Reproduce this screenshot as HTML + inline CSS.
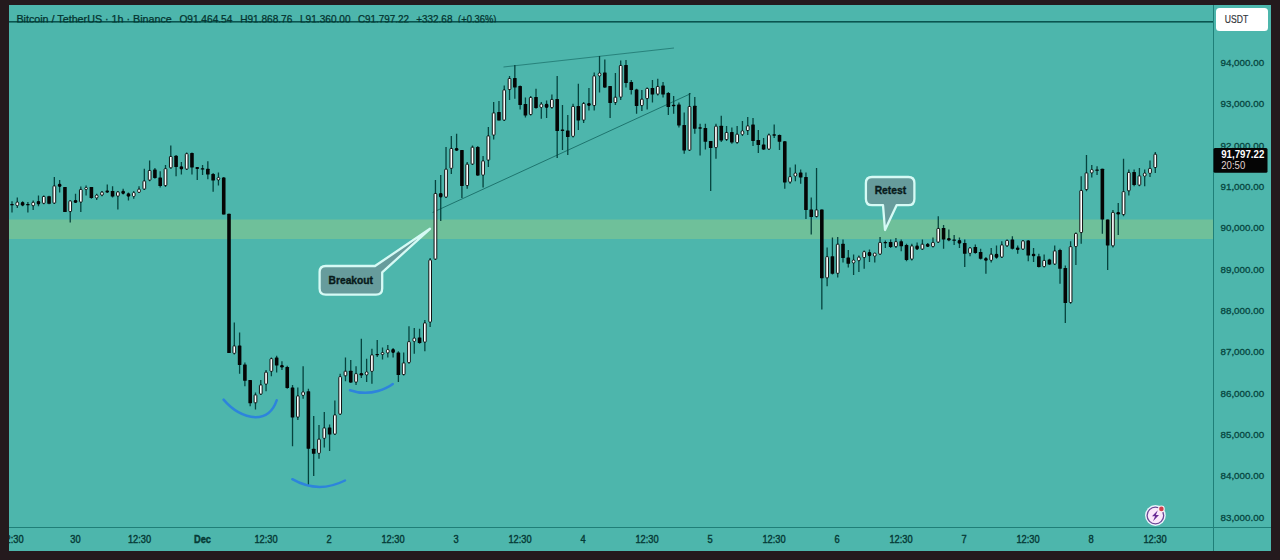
<!DOCTYPE html>
<html><head><meta charset="utf-8"><title>BTCUSDT chart</title>
<style>
html,body{margin:0;padding:0;background:#241a1d;}
body{width:1280px;height:560px;overflow:hidden;position:relative;font-family:"Liberation Sans",sans-serif;}
#chart{position:absolute;left:9px;top:5px;width:1262px;height:546px;background:#4db6ac;}
svg{position:absolute;left:0;top:0;}
text{font-family:"Liberation Sans",sans-serif;}
</style></head><body>
<div id="chart"></div>
<svg width="1280" height="560" viewBox="0 0 1280 560">
<rect x="9" y="219.5" width="1204.5" height="19.5" fill="#6fc09a"/>
<rect x="9" y="21" width="1204.5" height="1.6" fill="#0a5550"/>
<rect x="1213" y="5" width="1" height="546" fill="#1f7f78"/>
<rect x="9" y="527" width="1262" height="1" fill="#1f7f78"/>
<line x1="432.5" y1="212.5" x2="691" y2="93.5" stroke="#0f5f5a" stroke-width="1" opacity="0.75"/>
<line x1="503.5" y1="67" x2="674" y2="48" stroke="#0f5f5a" stroke-width="0.9" opacity="0.65"/>
<g shape-rendering="auto">
<rect x="11.35" y="201.25" width="1.3" height="11.25" fill="#06433e"/>
<rect x="10.2" y="204.03" width="3.6" height="1.2" rx="0.6" fill="#050505"/>
<rect x="16.64" y="197.5" width="1.3" height="10.5" fill="#06433e"/>
<rect x="15.94" y="202" width="2.7" height="3.75" rx="1.2" fill="#ffffff" stroke="#0a0a0a" stroke-width="0.95"/>
<rect x="21.94" y="201.25" width="1.3" height="5" fill="#06433e"/>
<rect x="20.79" y="202" width="3.6" height="3.75" rx="1.4" fill="#050505"/>
<rect x="27.23" y="202" width="1.3" height="10.5" fill="#06433e"/>
<rect x="26.08" y="204.03" width="3.6" height="1.2" rx="0.6" fill="#050505"/>
<rect x="32.52" y="200.5" width="1.3" height="9.5" fill="#06433e"/>
<rect x="31.82" y="202.2" width="2.7" height="3.6" rx="1.2" fill="#ffffff" stroke="#0a0a0a" stroke-width="0.95"/>
<rect x="37.82" y="195.5" width="1.3" height="10.75" fill="#06433e"/>
<rect x="36.67" y="201" width="3.6" height="3.5" rx="1.4" fill="#050505"/>
<rect x="43.11" y="195.5" width="1.3" height="8.75" fill="#06433e"/>
<rect x="42.41" y="196.45" width="2.7" height="6.85" rx="0.6" fill="#ffffff" stroke="#0a0a0a" stroke-width="0.95"/>
<rect x="48.4" y="195.75" width="1.3" height="8.5" fill="#06433e"/>
<rect x="47.25" y="196.25" width="3.6" height="7.5" rx="0.5" fill="#050505"/>
<rect x="53.69" y="177" width="1.3" height="27" fill="#06433e"/>
<rect x="52.99" y="185.95" width="2.7" height="17.1" rx="0.6" fill="#ffffff" stroke="#0a0a0a" stroke-width="0.95"/>
<rect x="58.99" y="180" width="1.3" height="12.5" fill="#06433e"/>
<rect x="57.84" y="183.75" width="3.6" height="3.25" rx="1.4" fill="#050505"/>
<rect x="64.28" y="187" width="1.3" height="25" fill="#06433e"/>
<rect x="63.13" y="187" width="3.6" height="25" rx="0.5" fill="#050505"/>
<rect x="69.57" y="200.5" width="1.3" height="22" fill="#06433e"/>
<rect x="68.87" y="200.95" width="2.7" height="10.6" rx="0.6" fill="#ffffff" stroke="#0a0a0a" stroke-width="0.95"/>
<rect x="74.87" y="193.75" width="1.3" height="9.25" fill="#06433e"/>
<rect x="73.72" y="200" width="3.6" height="3" rx="1.4" fill="#050505"/>
<rect x="80.16" y="186.5" width="1.3" height="25.5" fill="#06433e"/>
<rect x="79.46" y="189.45" width="2.7" height="12.6" rx="0.6" fill="#ffffff" stroke="#0a0a0a" stroke-width="0.95"/>
<rect x="85.45" y="185.5" width="1.3" height="10" fill="#06433e"/>
<rect x="84.75" y="187.5" width="2.7" height="2" rx="1" fill="#ffffff" stroke="#0a0a0a" stroke-width="0.95"/>
<rect x="90.74" y="187" width="1.3" height="11.75" fill="#06433e"/>
<rect x="89.59" y="187" width="3.6" height="11" rx="0.5" fill="#050505"/>
<rect x="96.04" y="193.75" width="1.3" height="6.25" fill="#06433e"/>
<rect x="95.34" y="195" width="2.7" height="3" rx="1.2" fill="#ffffff" stroke="#0a0a0a" stroke-width="0.95"/>
<rect x="101.33" y="191" width="1.3" height="5.25" fill="#06433e"/>
<rect x="100.63" y="191.95" width="2.7" height="3.35" rx="1.2" fill="#ffffff" stroke="#0a0a0a" stroke-width="0.95"/>
<rect x="106.62" y="184.5" width="1.3" height="8.5" fill="#06433e"/>
<rect x="105.47" y="190.5" width="3.6" height="2" rx="1" fill="#050505"/>
<rect x="111.92" y="186.25" width="1.3" height="11.25" fill="#06433e"/>
<rect x="110.77" y="191" width="3.6" height="5.5" rx="0.5" fill="#050505"/>
<rect x="117.21" y="191" width="1.3" height="18.5" fill="#06433e"/>
<rect x="116.51" y="191.95" width="2.7" height="4.1" rx="0.6" fill="#ffffff" stroke="#0a0a0a" stroke-width="0.95"/>
<rect x="122.5" y="188.75" width="1.3" height="5.75" fill="#06433e"/>
<rect x="121.35" y="190.75" width="3.6" height="3.25" rx="1.4" fill="#050505"/>
<rect x="127.8" y="192.5" width="1.3" height="8" fill="#06433e"/>
<rect x="126.65" y="193.25" width="3.6" height="3.5" rx="1.4" fill="#050505"/>
<rect x="133.09" y="191" width="1.3" height="7.75" fill="#06433e"/>
<rect x="132.39" y="192.5" width="2.7" height="4" rx="1.2" fill="#ffffff" stroke="#0a0a0a" stroke-width="0.95"/>
<rect x="138.38" y="186.25" width="1.3" height="6.75" fill="#06433e"/>
<rect x="137.68" y="189" width="2.7" height="3.5" rx="1.2" fill="#ffffff" stroke="#0a0a0a" stroke-width="0.95"/>
<rect x="143.68" y="168.75" width="1.3" height="21.25" fill="#06433e"/>
<rect x="142.97" y="180.95" width="2.7" height="8.1" rx="0.6" fill="#ffffff" stroke="#0a0a0a" stroke-width="0.95"/>
<rect x="148.97" y="160.5" width="1.3" height="20.75" fill="#06433e"/>
<rect x="148.27" y="170.45" width="2.7" height="9.6" rx="0.6" fill="#ffffff" stroke="#0a0a0a" stroke-width="0.95"/>
<rect x="154.26" y="168" width="1.3" height="10.75" fill="#06433e"/>
<rect x="153.11" y="169.5" width="3.6" height="8.5" rx="0.5" fill="#050505"/>
<rect x="159.55" y="171.25" width="1.3" height="16.25" fill="#06433e"/>
<rect x="158.4" y="177.5" width="3.6" height="8.5" rx="0.5" fill="#050505"/>
<rect x="164.85" y="165" width="1.3" height="22" fill="#06433e"/>
<rect x="164.15" y="168.7" width="2.7" height="16.85" rx="0.6" fill="#ffffff" stroke="#0a0a0a" stroke-width="0.95"/>
<rect x="170.14" y="145.5" width="1.3" height="23.25" fill="#06433e"/>
<rect x="169.44" y="156.45" width="2.7" height="11.35" rx="0.6" fill="#ffffff" stroke="#0a0a0a" stroke-width="0.95"/>
<rect x="175.43" y="155" width="1.3" height="21.25" fill="#06433e"/>
<rect x="174.28" y="155.75" width="3.6" height="11.25" rx="0.5" fill="#050505"/>
<rect x="180.73" y="162" width="1.3" height="12.5" fill="#06433e"/>
<rect x="179.58" y="166.25" width="3.6" height="3.25" rx="1.4" fill="#050505"/>
<rect x="186.02" y="152.5" width="1.3" height="17.5" fill="#06433e"/>
<rect x="185.32" y="153.7" width="2.7" height="15.35" rx="0.6" fill="#ffffff" stroke="#0a0a0a" stroke-width="0.95"/>
<rect x="191.31" y="152.5" width="1.3" height="22" fill="#06433e"/>
<rect x="190.16" y="153" width="3.6" height="14.5" rx="0.5" fill="#050505"/>
<rect x="196.6" y="167" width="1.3" height="13" fill="#06433e"/>
<rect x="195.45" y="167" width="3.6" height="2" rx="1" fill="#050505"/>
<rect x="201.9" y="165" width="1.3" height="10" fill="#06433e"/>
<rect x="200.75" y="168.28" width="3.6" height="1.2" rx="0.6" fill="#050505"/>
<rect x="207.19" y="161.25" width="1.3" height="18" fill="#06433e"/>
<rect x="206.04" y="168.75" width="3.6" height="5.75" rx="0.5" fill="#050505"/>
<rect x="212.48" y="173" width="1.3" height="18.75" fill="#06433e"/>
<rect x="211.33" y="174" width="3.6" height="6.5" rx="0.5" fill="#050505"/>
<rect x="217.78" y="172.5" width="1.3" height="13" fill="#06433e"/>
<rect x="217.08" y="177.5" width="2.7" height="2.5" rx="1.2" fill="#ffffff" stroke="#0a0a0a" stroke-width="0.95"/>
<rect x="223.07" y="177" width="1.3" height="37.5" fill="#06433e"/>
<rect x="221.92" y="177.5" width="3.6" height="37" rx="0.5" fill="#050505"/>
<rect x="228.36" y="213.75" width="1.3" height="139.25" fill="#06433e"/>
<rect x="227.21" y="213.75" width="3.6" height="139.25" rx="0.5" fill="#050505"/>
<rect x="233.66" y="322.5" width="1.3" height="32" fill="#06433e"/>
<rect x="232.96" y="345.95" width="2.7" height="7.35" rx="0.6" fill="#ffffff" stroke="#0a0a0a" stroke-width="0.95"/>
<rect x="238.95" y="332.5" width="1.3" height="41.25" fill="#06433e"/>
<rect x="237.8" y="345.5" width="3.6" height="19.5" rx="0.5" fill="#050505"/>
<rect x="244.24" y="362.5" width="1.3" height="23.75" fill="#06433e"/>
<rect x="243.09" y="364.5" width="3.6" height="16.25" rx="0.5" fill="#050505"/>
<rect x="249.53" y="380" width="1.3" height="26.25" fill="#06433e"/>
<rect x="248.38" y="380" width="3.6" height="23.25" rx="0.5" fill="#050505"/>
<rect x="254.83" y="392.5" width="1.3" height="17" fill="#06433e"/>
<rect x="254.13" y="394.95" width="2.7" height="7.85" rx="0.6" fill="#ffffff" stroke="#0a0a0a" stroke-width="0.95"/>
<rect x="260.12" y="380" width="1.3" height="15" fill="#06433e"/>
<rect x="259.42" y="384.95" width="2.7" height="9.1" rx="0.6" fill="#ffffff" stroke="#0a0a0a" stroke-width="0.95"/>
<rect x="265.41" y="370" width="1.3" height="21.25" fill="#06433e"/>
<rect x="264.71" y="372.2" width="2.7" height="11.85" rx="0.6" fill="#ffffff" stroke="#0a0a0a" stroke-width="0.95"/>
<rect x="270.71" y="357.5" width="1.3" height="18.75" fill="#06433e"/>
<rect x="270.01" y="358.7" width="2.7" height="12.6" rx="0.6" fill="#ffffff" stroke="#0a0a0a" stroke-width="0.95"/>
<rect x="276" y="355.75" width="1.3" height="16.75" fill="#06433e"/>
<rect x="274.85" y="357.5" width="3.6" height="8" rx="0.5" fill="#050505"/>
<rect x="281.29" y="361.25" width="1.3" height="8.75" fill="#06433e"/>
<rect x="280.14" y="365" width="3.6" height="2.5" rx="1.25" fill="#050505"/>
<rect x="286.59" y="365.75" width="1.3" height="23" fill="#06433e"/>
<rect x="285.44" y="367" width="3.6" height="21" rx="0.5" fill="#050505"/>
<rect x="291.88" y="385" width="1.3" height="61.25" fill="#06433e"/>
<rect x="290.73" y="387.5" width="3.6" height="30" rx="0.5" fill="#050505"/>
<rect x="297.17" y="387.5" width="1.3" height="32.5" fill="#06433e"/>
<rect x="296.47" y="395.95" width="2.7" height="21.1" rx="0.6" fill="#ffffff" stroke="#0a0a0a" stroke-width="0.95"/>
<rect x="302.47" y="366.25" width="1.3" height="32.5" fill="#06433e"/>
<rect x="301.76" y="391.75" width="2.7" height="3.75" rx="1.2" fill="#ffffff" stroke="#0a0a0a" stroke-width="0.95"/>
<rect x="307.76" y="388.75" width="1.3" height="96.25" fill="#06433e"/>
<rect x="306.61" y="391.25" width="3.6" height="57.5" rx="0.5" fill="#050505"/>
<rect x="313.05" y="416" width="1.3" height="60" fill="#06433e"/>
<rect x="311.9" y="448.75" width="3.6" height="5" rx="0.5" fill="#050505"/>
<rect x="318.34" y="425" width="1.3" height="33.75" fill="#06433e"/>
<rect x="317.64" y="439.2" width="2.7" height="14.1" rx="0.6" fill="#ffffff" stroke="#0a0a0a" stroke-width="0.95"/>
<rect x="323.64" y="412" width="1.3" height="35.5" fill="#06433e"/>
<rect x="322.94" y="427.95" width="2.7" height="10.35" rx="0.6" fill="#ffffff" stroke="#0a0a0a" stroke-width="0.95"/>
<rect x="328.93" y="424.5" width="1.3" height="26.5" fill="#06433e"/>
<rect x="327.78" y="427.5" width="3.6" height="7" rx="0.5" fill="#050505"/>
<rect x="334.22" y="400.5" width="1.3" height="34.5" fill="#06433e"/>
<rect x="333.52" y="414.95" width="2.7" height="19.1" rx="0.6" fill="#ffffff" stroke="#0a0a0a" stroke-width="0.95"/>
<rect x="339.52" y="373.75" width="1.3" height="41.25" fill="#06433e"/>
<rect x="338.82" y="376.7" width="2.7" height="37.35" rx="0.6" fill="#ffffff" stroke="#0a0a0a" stroke-width="0.95"/>
<rect x="344.81" y="357.5" width="1.3" height="23.75" fill="#06433e"/>
<rect x="344.11" y="371.2" width="2.7" height="4.6" rx="0.6" fill="#ffffff" stroke="#0a0a0a" stroke-width="0.95"/>
<rect x="350.1" y="360" width="1.3" height="23" fill="#06433e"/>
<rect x="348.95" y="370.75" width="3.6" height="11.75" rx="0.5" fill="#050505"/>
<rect x="355.4" y="366.25" width="1.3" height="18.75" fill="#06433e"/>
<rect x="354.69" y="373.7" width="2.7" height="8.35" rx="0.6" fill="#ffffff" stroke="#0a0a0a" stroke-width="0.95"/>
<rect x="360.69" y="338.75" width="1.3" height="39.25" fill="#06433e"/>
<rect x="359.54" y="373" width="3.6" height="2.5" rx="1.25" fill="#050505"/>
<rect x="365.98" y="358.75" width="1.3" height="23.25" fill="#06433e"/>
<rect x="365.28" y="371.75" width="2.7" height="3.25" rx="1.2" fill="#ffffff" stroke="#0a0a0a" stroke-width="0.95"/>
<rect x="371.27" y="348.75" width="1.3" height="35" fill="#06433e"/>
<rect x="370.57" y="354.95" width="2.7" height="16.35" rx="0.6" fill="#ffffff" stroke="#0a0a0a" stroke-width="0.95"/>
<rect x="376.57" y="340" width="1.3" height="17" fill="#06433e"/>
<rect x="375.42" y="354.02" width="3.6" height="1.2" rx="0.6" fill="#050505"/>
<rect x="381.86" y="347.5" width="1.3" height="12" fill="#06433e"/>
<rect x="381.16" y="352.5" width="2.7" height="2" rx="1" fill="#ffffff" stroke="#0a0a0a" stroke-width="0.95"/>
<rect x="387.15" y="345" width="1.3" height="12.5" fill="#06433e"/>
<rect x="386.45" y="349.5" width="2.7" height="3.5" rx="1.2" fill="#ffffff" stroke="#0a0a0a" stroke-width="0.95"/>
<rect x="392.45" y="348" width="1.3" height="9.5" fill="#06433e"/>
<rect x="391.3" y="349" width="3.6" height="4" rx="1.4" fill="#050505"/>
<rect x="397.74" y="351.25" width="1.3" height="30.75" fill="#06433e"/>
<rect x="396.59" y="352.5" width="3.6" height="22.5" rx="0.5" fill="#050505"/>
<rect x="403.03" y="352.5" width="1.3" height="23" fill="#06433e"/>
<rect x="402.33" y="362.95" width="2.7" height="11.6" rx="0.6" fill="#ffffff" stroke="#0a0a0a" stroke-width="0.95"/>
<rect x="408.33" y="326.25" width="1.3" height="37.5" fill="#06433e"/>
<rect x="407.62" y="341.7" width="2.7" height="20.85" rx="0.6" fill="#ffffff" stroke="#0a0a0a" stroke-width="0.95"/>
<rect x="413.62" y="328" width="1.3" height="25.75" fill="#06433e"/>
<rect x="412.92" y="338" width="2.7" height="3.5" rx="1.2" fill="#ffffff" stroke="#0a0a0a" stroke-width="0.95"/>
<rect x="418.91" y="328.75" width="1.3" height="15" fill="#06433e"/>
<rect x="417.76" y="337.5" width="3.6" height="5.5" rx="0.5" fill="#050505"/>
<rect x="424.2" y="320" width="1.3" height="31.25" fill="#06433e"/>
<rect x="423.5" y="322.95" width="2.7" height="19.1" rx="0.6" fill="#ffffff" stroke="#0a0a0a" stroke-width="0.95"/>
<rect x="429.5" y="258" width="1.3" height="69" fill="#06433e"/>
<rect x="428.8" y="259.95" width="2.7" height="62.1" rx="0.6" fill="#ffffff" stroke="#0a0a0a" stroke-width="0.95"/>
<rect x="434.79" y="180" width="1.3" height="80" fill="#06433e"/>
<rect x="434.09" y="193.45" width="2.7" height="65.6" rx="0.6" fill="#ffffff" stroke="#0a0a0a" stroke-width="0.95"/>
<rect x="440.08" y="175" width="1.3" height="46" fill="#06433e"/>
<rect x="438.93" y="193" width="3.6" height="4.5" rx="1.4" fill="#050505"/>
<rect x="445.38" y="147" width="1.3" height="51" fill="#06433e"/>
<rect x="444.68" y="169.2" width="2.7" height="27.85" rx="0.6" fill="#ffffff" stroke="#0a0a0a" stroke-width="0.95"/>
<rect x="450.67" y="136" width="1.3" height="38" fill="#06433e"/>
<rect x="449.97" y="148.45" width="2.7" height="19.85" rx="0.6" fill="#ffffff" stroke="#0a0a0a" stroke-width="0.95"/>
<rect x="455.96" y="133.75" width="1.3" height="17.25" fill="#06433e"/>
<rect x="454.81" y="148" width="3.6" height="2.75" rx="1.38" fill="#050505"/>
<rect x="461.26" y="150" width="1.3" height="48" fill="#06433e"/>
<rect x="460.11" y="150" width="3.6" height="36" rx="0.5" fill="#050505"/>
<rect x="466.55" y="162" width="1.3" height="26.75" fill="#06433e"/>
<rect x="465.85" y="164.2" width="2.7" height="21.35" rx="0.6" fill="#ffffff" stroke="#0a0a0a" stroke-width="0.95"/>
<rect x="471.84" y="145.5" width="1.3" height="19.5" fill="#06433e"/>
<rect x="471.14" y="147.2" width="2.7" height="16.85" rx="0.6" fill="#ffffff" stroke="#0a0a0a" stroke-width="0.95"/>
<rect x="477.13" y="146" width="1.3" height="30" fill="#06433e"/>
<rect x="475.98" y="147" width="3.6" height="28.5" rx="0.5" fill="#050505"/>
<rect x="482.43" y="156" width="1.3" height="31.5" fill="#06433e"/>
<rect x="481.73" y="160.95" width="2.7" height="14.1" rx="0.6" fill="#ffffff" stroke="#0a0a0a" stroke-width="0.95"/>
<rect x="487.72" y="127" width="1.3" height="40" fill="#06433e"/>
<rect x="487.02" y="135.95" width="2.7" height="24.1" rx="0.6" fill="#ffffff" stroke="#0a0a0a" stroke-width="0.95"/>
<rect x="493.01" y="102" width="1.3" height="37.5" fill="#06433e"/>
<rect x="492.31" y="112.95" width="2.7" height="22.1" rx="0.6" fill="#ffffff" stroke="#0a0a0a" stroke-width="0.95"/>
<rect x="498.31" y="101" width="1.3" height="19.5" fill="#06433e"/>
<rect x="497.16" y="112" width="3.6" height="8.5" rx="0.5" fill="#050505"/>
<rect x="503.6" y="85.5" width="1.3" height="35.5" fill="#06433e"/>
<rect x="502.9" y="89.95" width="2.7" height="30.1" rx="0.6" fill="#ffffff" stroke="#0a0a0a" stroke-width="0.95"/>
<rect x="508.89" y="76" width="1.3" height="24" fill="#06433e"/>
<rect x="508.19" y="78.45" width="2.7" height="11.1" rx="0.6" fill="#ffffff" stroke="#0a0a0a" stroke-width="0.95"/>
<rect x="514.19" y="65" width="1.3" height="33.75" fill="#06433e"/>
<rect x="513.04" y="78" width="3.6" height="9.5" rx="0.5" fill="#050505"/>
<rect x="519.48" y="85.5" width="1.3" height="24" fill="#06433e"/>
<rect x="518.33" y="86" width="3.6" height="19" rx="0.5" fill="#050505"/>
<rect x="524.77" y="97.5" width="1.3" height="20" fill="#06433e"/>
<rect x="523.62" y="104" width="3.6" height="11.5" rx="0.5" fill="#050505"/>
<rect x="530.06" y="96" width="1.3" height="19.5" fill="#06433e"/>
<rect x="529.36" y="97.45" width="2.7" height="17.1" rx="0.6" fill="#ffffff" stroke="#0a0a0a" stroke-width="0.95"/>
<rect x="535.36" y="88.75" width="1.3" height="20" fill="#06433e"/>
<rect x="534.21" y="97" width="3.6" height="11" rx="0.5" fill="#050505"/>
<rect x="540.65" y="102" width="1.3" height="16.75" fill="#06433e"/>
<rect x="539.95" y="104" width="2.7" height="3.5" rx="1.2" fill="#ffffff" stroke="#0a0a0a" stroke-width="0.95"/>
<rect x="545.94" y="100.5" width="1.3" height="17.5" fill="#06433e"/>
<rect x="544.79" y="103.75" width="3.6" height="4.25" rx="1.4" fill="#050505"/>
<rect x="551.24" y="94.5" width="1.3" height="14.25" fill="#06433e"/>
<rect x="550.54" y="99.45" width="2.7" height="8.1" rx="0.6" fill="#ffffff" stroke="#0a0a0a" stroke-width="0.95"/>
<rect x="556.53" y="76" width="1.3" height="82" fill="#06433e"/>
<rect x="555.38" y="99" width="3.6" height="32" rx="0.5" fill="#050505"/>
<rect x="561.82" y="105" width="1.3" height="45" fill="#06433e"/>
<rect x="560.67" y="129.5" width="3.6" height="1.5" rx="0.75" fill="#050505"/>
<rect x="567.12" y="115" width="1.3" height="40" fill="#06433e"/>
<rect x="565.97" y="130.5" width="3.6" height="6.5" rx="0.5" fill="#050505"/>
<rect x="572.41" y="103.75" width="1.3" height="33.75" fill="#06433e"/>
<rect x="571.71" y="106.45" width="2.7" height="29.85" rx="0.6" fill="#ffffff" stroke="#0a0a0a" stroke-width="0.95"/>
<rect x="577.7" y="83.75" width="1.3" height="46.25" fill="#06433e"/>
<rect x="576.55" y="106" width="3.6" height="14.5" rx="0.5" fill="#050505"/>
<rect x="582.99" y="102" width="1.3" height="21" fill="#06433e"/>
<rect x="582.29" y="103.45" width="2.7" height="16.6" rx="0.6" fill="#ffffff" stroke="#0a0a0a" stroke-width="0.95"/>
<rect x="588.29" y="88" width="1.3" height="22.5" fill="#06433e"/>
<rect x="587.14" y="103" width="3.6" height="3" rx="1.4" fill="#050505"/>
<rect x="593.58" y="72.5" width="1.3" height="38" fill="#06433e"/>
<rect x="592.88" y="75.95" width="2.7" height="29.6" rx="0.6" fill="#ffffff" stroke="#0a0a0a" stroke-width="0.95"/>
<rect x="598.87" y="56" width="1.3" height="36.5" fill="#06433e"/>
<rect x="598.17" y="73" width="2.7" height="3" rx="1.2" fill="#ffffff" stroke="#0a0a0a" stroke-width="0.95"/>
<rect x="604.17" y="59.5" width="1.3" height="28.5" fill="#06433e"/>
<rect x="603.02" y="72.5" width="3.6" height="15" rx="0.5" fill="#050505"/>
<rect x="609.46" y="86" width="1.3" height="32" fill="#06433e"/>
<rect x="608.31" y="86" width="3.6" height="17" rx="0.5" fill="#050505"/>
<rect x="614.75" y="73" width="1.3" height="32" fill="#06433e"/>
<rect x="614.05" y="97.2" width="2.7" height="5.35" rx="0.6" fill="#ffffff" stroke="#0a0a0a" stroke-width="0.95"/>
<rect x="620.05" y="60.5" width="1.3" height="39.5" fill="#06433e"/>
<rect x="619.35" y="65.45" width="2.7" height="31.6" rx="0.6" fill="#ffffff" stroke="#0a0a0a" stroke-width="0.95"/>
<rect x="625.34" y="60" width="1.3" height="27.5" fill="#06433e"/>
<rect x="624.19" y="65" width="3.6" height="18" rx="0.5" fill="#050505"/>
<rect x="630.63" y="80" width="1.3" height="14.5" fill="#06433e"/>
<rect x="629.48" y="82" width="3.6" height="8" rx="0.5" fill="#050505"/>
<rect x="635.92" y="88.75" width="1.3" height="25" fill="#06433e"/>
<rect x="634.77" y="89.5" width="3.6" height="16.5" rx="0.5" fill="#050505"/>
<rect x="641.22" y="90" width="1.3" height="21" fill="#06433e"/>
<rect x="640.52" y="99.2" width="2.7" height="6.35" rx="0.6" fill="#ffffff" stroke="#0a0a0a" stroke-width="0.95"/>
<rect x="646.51" y="87.5" width="1.3" height="22" fill="#06433e"/>
<rect x="645.81" y="88.45" width="2.7" height="10.1" rx="0.6" fill="#ffffff" stroke="#0a0a0a" stroke-width="0.95"/>
<rect x="651.8" y="80" width="1.3" height="22.5" fill="#06433e"/>
<rect x="650.65" y="88" width="3.6" height="6.5" rx="0.5" fill="#050505"/>
<rect x="657.1" y="78.75" width="1.3" height="16.75" fill="#06433e"/>
<rect x="656.4" y="86.45" width="2.7" height="7.6" rx="0.6" fill="#ffffff" stroke="#0a0a0a" stroke-width="0.95"/>
<rect x="662.39" y="82" width="1.3" height="15.5" fill="#06433e"/>
<rect x="661.24" y="85.5" width="3.6" height="9" rx="0.5" fill="#050505"/>
<rect x="667.68" y="92" width="1.3" height="23" fill="#06433e"/>
<rect x="666.53" y="93" width="3.6" height="14" rx="0.5" fill="#050505"/>
<rect x="672.98" y="96" width="1.3" height="17.75" fill="#06433e"/>
<rect x="671.83" y="104.75" width="3.6" height="1.5" rx="0.75" fill="#050505"/>
<rect x="678.27" y="102.5" width="1.3" height="25" fill="#06433e"/>
<rect x="677.12" y="104.5" width="3.6" height="21" rx="0.5" fill="#050505"/>
<rect x="683.56" y="112.5" width="1.3" height="41.25" fill="#06433e"/>
<rect x="682.41" y="125" width="3.6" height="25.5" rx="0.5" fill="#050505"/>
<rect x="688.85" y="93" width="1.3" height="58" fill="#06433e"/>
<rect x="688.15" y="106.45" width="2.7" height="43.6" rx="0.6" fill="#ffffff" stroke="#0a0a0a" stroke-width="0.95"/>
<rect x="694.15" y="97" width="1.3" height="36.75" fill="#06433e"/>
<rect x="693" y="105.75" width="3.6" height="23" rx="0.5" fill="#050505"/>
<rect x="699.44" y="123.75" width="1.3" height="31.75" fill="#06433e"/>
<rect x="698.29" y="127.25" width="3.6" height="1.5" rx="0.75" fill="#050505"/>
<rect x="704.73" y="123.75" width="1.3" height="25.75" fill="#06433e"/>
<rect x="703.58" y="128" width="3.6" height="13.75" rx="0.5" fill="#050505"/>
<rect x="710.03" y="141" width="1.3" height="50" fill="#06433e"/>
<rect x="708.88" y="141" width="3.6" height="7" rx="0.5" fill="#050505"/>
<rect x="715.32" y="123.75" width="1.3" height="35" fill="#06433e"/>
<rect x="714.62" y="126.2" width="2.7" height="21.35" rx="0.6" fill="#ffffff" stroke="#0a0a0a" stroke-width="0.95"/>
<rect x="720.61" y="115.75" width="1.3" height="26.25" fill="#06433e"/>
<rect x="719.46" y="125.75" width="3.6" height="14.75" rx="0.5" fill="#050505"/>
<rect x="725.91" y="126" width="1.3" height="15" fill="#06433e"/>
<rect x="725.21" y="132.45" width="2.7" height="7.1" rx="0.6" fill="#ffffff" stroke="#0a0a0a" stroke-width="0.95"/>
<rect x="731.2" y="127.5" width="1.3" height="16.25" fill="#06433e"/>
<rect x="730.05" y="132" width="3.6" height="10.5" rx="0.5" fill="#050505"/>
<rect x="736.49" y="126" width="1.3" height="17.75" fill="#06433e"/>
<rect x="735.79" y="134.2" width="2.7" height="8.35" rx="0.6" fill="#ffffff" stroke="#0a0a0a" stroke-width="0.95"/>
<rect x="741.78" y="121" width="1.3" height="15" fill="#06433e"/>
<rect x="741.08" y="130.75" width="2.7" height="3.75" rx="1.2" fill="#ffffff" stroke="#0a0a0a" stroke-width="0.95"/>
<rect x="747.08" y="117" width="1.3" height="18" fill="#06433e"/>
<rect x="746.38" y="125.95" width="2.7" height="4.6" rx="0.6" fill="#ffffff" stroke="#0a0a0a" stroke-width="0.95"/>
<rect x="752.37" y="118" width="1.3" height="28" fill="#06433e"/>
<rect x="751.22" y="124.5" width="3.6" height="16.5" rx="0.5" fill="#050505"/>
<rect x="757.66" y="130" width="1.3" height="23" fill="#06433e"/>
<rect x="756.51" y="140" width="3.6" height="5" rx="0.5" fill="#050505"/>
<rect x="762.96" y="138" width="1.3" height="12" fill="#06433e"/>
<rect x="761.81" y="144.5" width="3.6" height="5" rx="0.5" fill="#050505"/>
<rect x="768.25" y="133.5" width="1.3" height="16.5" fill="#06433e"/>
<rect x="767.55" y="134.95" width="2.7" height="14.1" rx="0.6" fill="#ffffff" stroke="#0a0a0a" stroke-width="0.95"/>
<rect x="773.54" y="124.5" width="1.3" height="13.5" fill="#06433e"/>
<rect x="772.39" y="134.25" width="3.6" height="1.5" rx="0.75" fill="#050505"/>
<rect x="778.84" y="134.5" width="1.3" height="15.5" fill="#06433e"/>
<rect x="777.69" y="135" width="3.6" height="6.75" rx="0.5" fill="#050505"/>
<rect x="784.13" y="141" width="1.3" height="47.75" fill="#06433e"/>
<rect x="782.98" y="141.25" width="3.6" height="41.25" rx="0.5" fill="#050505"/>
<rect x="789.42" y="167.5" width="1.3" height="16.25" fill="#06433e"/>
<rect x="788.72" y="176.7" width="2.7" height="5.35" rx="0.6" fill="#ffffff" stroke="#0a0a0a" stroke-width="0.95"/>
<rect x="794.71" y="164.5" width="1.3" height="16.75" fill="#06433e"/>
<rect x="794.01" y="173" width="2.7" height="3.25" rx="1.2" fill="#ffffff" stroke="#0a0a0a" stroke-width="0.95"/>
<rect x="800.01" y="169.5" width="1.3" height="14.25" fill="#06433e"/>
<rect x="798.86" y="172.5" width="3.6" height="5" rx="0.5" fill="#050505"/>
<rect x="805.3" y="172.5" width="1.3" height="46.5" fill="#06433e"/>
<rect x="804.15" y="177" width="3.6" height="33" rx="0.5" fill="#050505"/>
<rect x="810.59" y="197.5" width="1.3" height="37" fill="#06433e"/>
<rect x="809.44" y="209.5" width="3.6" height="7.5" rx="0.5" fill="#050505"/>
<rect x="815.89" y="168" width="1.3" height="49.5" fill="#06433e"/>
<rect x="815.19" y="209.95" width="2.7" height="6.6" rx="0.6" fill="#ffffff" stroke="#0a0a0a" stroke-width="0.95"/>
<rect x="821.18" y="209.5" width="1.3" height="100" fill="#06433e"/>
<rect x="820.03" y="209.5" width="3.6" height="68.75" rx="0.5" fill="#050505"/>
<rect x="826.47" y="247.5" width="1.3" height="38.75" fill="#06433e"/>
<rect x="825.77" y="256.7" width="2.7" height="21.1" rx="0.6" fill="#ffffff" stroke="#0a0a0a" stroke-width="0.95"/>
<rect x="831.77" y="237.5" width="1.3" height="37" fill="#06433e"/>
<rect x="830.62" y="256.25" width="3.6" height="17.5" rx="0.5" fill="#050505"/>
<rect x="837.06" y="237" width="1.3" height="40.5" fill="#06433e"/>
<rect x="836.36" y="244.2" width="2.7" height="29.1" rx="0.6" fill="#ffffff" stroke="#0a0a0a" stroke-width="0.95"/>
<rect x="842.35" y="239.5" width="1.3" height="23" fill="#06433e"/>
<rect x="841.2" y="243.75" width="3.6" height="14.25" rx="0.5" fill="#050505"/>
<rect x="847.64" y="250" width="1.3" height="17.5" fill="#06433e"/>
<rect x="846.49" y="257.5" width="3.6" height="6.25" rx="0.5" fill="#050505"/>
<rect x="852.94" y="254.5" width="1.3" height="20.5" fill="#06433e"/>
<rect x="852.24" y="260" width="2.7" height="3" rx="1.2" fill="#ffffff" stroke="#0a0a0a" stroke-width="0.95"/>
<rect x="858.23" y="255.5" width="1.3" height="16.5" fill="#06433e"/>
<rect x="857.53" y="257" width="2.7" height="3.75" rx="1.2" fill="#ffffff" stroke="#0a0a0a" stroke-width="0.95"/>
<rect x="863.52" y="250.5" width="1.3" height="18.25" fill="#06433e"/>
<rect x="862.82" y="251.7" width="2.7" height="5.85" rx="0.6" fill="#ffffff" stroke="#0a0a0a" stroke-width="0.95"/>
<rect x="868.82" y="249.5" width="1.3" height="12.5" fill="#06433e"/>
<rect x="867.67" y="252" width="3.6" height="4.25" rx="1.4" fill="#050505"/>
<rect x="874.11" y="253" width="1.3" height="9.5" fill="#06433e"/>
<rect x="873.41" y="253" width="2.7" height="3.25" rx="1.2" fill="#ffffff" stroke="#0a0a0a" stroke-width="0.95"/>
<rect x="879.4" y="237" width="1.3" height="18" fill="#06433e"/>
<rect x="878.7" y="242.45" width="2.7" height="11.6" rx="0.6" fill="#ffffff" stroke="#0a0a0a" stroke-width="0.95"/>
<rect x="884.7" y="240.5" width="1.3" height="7.5" fill="#06433e"/>
<rect x="883.55" y="242" width="3.6" height="1.25" rx="0.62" fill="#050505"/>
<rect x="889.99" y="239.5" width="1.3" height="8.5" fill="#06433e"/>
<rect x="888.84" y="242" width="3.6" height="5" rx="0.5" fill="#050505"/>
<rect x="895.28" y="238" width="1.3" height="10" fill="#06433e"/>
<rect x="894.58" y="241.7" width="2.7" height="4.85" rx="0.6" fill="#ffffff" stroke="#0a0a0a" stroke-width="0.95"/>
<rect x="900.57" y="239.5" width="1.3" height="11.75" fill="#06433e"/>
<rect x="899.42" y="241.25" width="3.6" height="5" rx="0.5" fill="#050505"/>
<rect x="905.87" y="243.75" width="1.3" height="17.5" fill="#06433e"/>
<rect x="904.72" y="245" width="3.6" height="15" rx="0.5" fill="#050505"/>
<rect x="911.16" y="243.75" width="1.3" height="16.75" fill="#06433e"/>
<rect x="910.46" y="245.95" width="2.7" height="13.1" rx="0.6" fill="#ffffff" stroke="#0a0a0a" stroke-width="0.95"/>
<rect x="916.45" y="242.5" width="1.3" height="7.5" fill="#06433e"/>
<rect x="915.3" y="245.5" width="3.6" height="4" rx="1.4" fill="#050505"/>
<rect x="921.75" y="239.5" width="1.3" height="10.5" fill="#06433e"/>
<rect x="921.05" y="244.2" width="2.7" height="4.85" rx="0.6" fill="#ffffff" stroke="#0a0a0a" stroke-width="0.95"/>
<rect x="927.04" y="243" width="1.3" height="4" fill="#06433e"/>
<rect x="925.89" y="243.75" width="3.6" height="3.25" rx="1.4" fill="#050505"/>
<rect x="932.33" y="237.5" width="1.3" height="10" fill="#06433e"/>
<rect x="931.63" y="242.45" width="2.7" height="4.1" rx="0.6" fill="#ffffff" stroke="#0a0a0a" stroke-width="0.95"/>
<rect x="937.62" y="216.25" width="1.3" height="26.75" fill="#06433e"/>
<rect x="936.93" y="228.45" width="2.7" height="13.6" rx="0.6" fill="#ffffff" stroke="#0a0a0a" stroke-width="0.95"/>
<rect x="942.92" y="225" width="1.3" height="23.75" fill="#06433e"/>
<rect x="941.77" y="228" width="3.6" height="11.5" rx="0.5" fill="#050505"/>
<rect x="948.21" y="229.5" width="1.3" height="11.75" fill="#06433e"/>
<rect x="947.06" y="238" width="3.6" height="2.5" rx="1.25" fill="#050505"/>
<rect x="953.5" y="235" width="1.3" height="10" fill="#06433e"/>
<rect x="952.35" y="239.5" width="3.6" height="1.25" rx="0.62" fill="#050505"/>
<rect x="958.8" y="237.5" width="1.3" height="10.5" fill="#06433e"/>
<rect x="957.65" y="240" width="3.6" height="3.75" rx="1.4" fill="#050505"/>
<rect x="964.09" y="239.5" width="1.3" height="27.5" fill="#06433e"/>
<rect x="962.94" y="243" width="3.6" height="10.75" rx="0.5" fill="#050505"/>
<rect x="969.38" y="247" width="1.3" height="9.25" fill="#06433e"/>
<rect x="968.68" y="247.95" width="2.7" height="5.35" rx="0.6" fill="#ffffff" stroke="#0a0a0a" stroke-width="0.95"/>
<rect x="974.68" y="244.5" width="1.3" height="9.25" fill="#06433e"/>
<rect x="973.53" y="247" width="3.6" height="6" rx="0.5" fill="#050505"/>
<rect x="979.97" y="248.75" width="1.3" height="10.75" fill="#06433e"/>
<rect x="978.82" y="252" width="3.6" height="6.75" rx="0.5" fill="#050505"/>
<rect x="985.26" y="257" width="1.3" height="16.75" fill="#06433e"/>
<rect x="984.11" y="258" width="3.6" height="2.75" rx="1.38" fill="#050505"/>
<rect x="990.56" y="248" width="1.3" height="14.5" fill="#06433e"/>
<rect x="989.86" y="254.2" width="2.7" height="6.1" rx="0.6" fill="#ffffff" stroke="#0a0a0a" stroke-width="0.95"/>
<rect x="995.85" y="245.5" width="1.3" height="13.25" fill="#06433e"/>
<rect x="994.7" y="253.75" width="3.6" height="4.25" rx="1.4" fill="#050505"/>
<rect x="1001.14" y="241.25" width="1.3" height="16.75" fill="#06433e"/>
<rect x="1000.44" y="244.95" width="2.7" height="12.1" rx="0.6" fill="#ffffff" stroke="#0a0a0a" stroke-width="0.95"/>
<rect x="1006.43" y="239.5" width="1.3" height="7.5" fill="#06433e"/>
<rect x="1005.73" y="240.45" width="2.7" height="5.35" rx="0.6" fill="#ffffff" stroke="#0a0a0a" stroke-width="0.95"/>
<rect x="1011.73" y="236.25" width="1.3" height="13.25" fill="#06433e"/>
<rect x="1010.58" y="239.5" width="3.6" height="9.25" rx="0.5" fill="#050505"/>
<rect x="1017.02" y="245.5" width="1.3" height="8.25" fill="#06433e"/>
<rect x="1015.87" y="247.5" width="3.6" height="2.5" rx="1.25" fill="#050505"/>
<rect x="1022.31" y="240" width="1.3" height="10" fill="#06433e"/>
<rect x="1021.61" y="240.95" width="2.7" height="8.1" rx="0.6" fill="#ffffff" stroke="#0a0a0a" stroke-width="0.95"/>
<rect x="1027.61" y="240" width="1.3" height="21.25" fill="#06433e"/>
<rect x="1026.46" y="240.5" width="3.6" height="15" rx="0.5" fill="#050505"/>
<rect x="1032.9" y="248" width="1.3" height="14" fill="#06433e"/>
<rect x="1031.75" y="253.75" width="3.6" height="2.5" rx="1.25" fill="#050505"/>
<rect x="1038.19" y="253.75" width="1.3" height="13.75" fill="#06433e"/>
<rect x="1037.04" y="256.25" width="3.6" height="10.75" rx="0.5" fill="#050505"/>
<rect x="1043.48" y="254.5" width="1.3" height="13" fill="#06433e"/>
<rect x="1042.79" y="260.45" width="2.7" height="6.1" rx="0.6" fill="#ffffff" stroke="#0a0a0a" stroke-width="0.95"/>
<rect x="1048.78" y="258.75" width="1.3" height="6.25" fill="#06433e"/>
<rect x="1047.63" y="259.5" width="3.6" height="5" rx="0.5" fill="#050505"/>
<rect x="1054.07" y="245.5" width="1.3" height="19.5" fill="#06433e"/>
<rect x="1053.37" y="250.95" width="2.7" height="13.1" rx="0.6" fill="#ffffff" stroke="#0a0a0a" stroke-width="0.95"/>
<rect x="1059.36" y="248.75" width="1.3" height="35" fill="#06433e"/>
<rect x="1058.21" y="250" width="3.6" height="18.75" rx="0.5" fill="#050505"/>
<rect x="1064.66" y="265.5" width="1.3" height="57.5" fill="#06433e"/>
<rect x="1063.51" y="268" width="3.6" height="35" rx="0.5" fill="#050505"/>
<rect x="1069.95" y="241.25" width="1.3" height="62.5" fill="#06433e"/>
<rect x="1069.25" y="246.7" width="2.7" height="55.85" rx="0.6" fill="#ffffff" stroke="#0a0a0a" stroke-width="0.95"/>
<rect x="1075.24" y="232.5" width="1.3" height="32.5" fill="#06433e"/>
<rect x="1074.54" y="233.45" width="2.7" height="13.1" rx="0.6" fill="#ffffff" stroke="#0a0a0a" stroke-width="0.95"/>
<rect x="1080.54" y="176.25" width="1.3" height="67.5" fill="#06433e"/>
<rect x="1079.84" y="190.45" width="2.7" height="42.1" rx="0.6" fill="#ffffff" stroke="#0a0a0a" stroke-width="0.95"/>
<rect x="1085.83" y="155" width="1.3" height="36.25" fill="#06433e"/>
<rect x="1085.13" y="172.95" width="2.7" height="16.6" rx="0.6" fill="#ffffff" stroke="#0a0a0a" stroke-width="0.95"/>
<rect x="1091.12" y="165" width="1.3" height="12.5" fill="#06433e"/>
<rect x="1090.42" y="169.5" width="2.7" height="3.5" rx="1.2" fill="#ffffff" stroke="#0a0a0a" stroke-width="0.95"/>
<rect x="1096.41" y="166.25" width="1.3" height="8.75" fill="#06433e"/>
<rect x="1095.27" y="169.5" width="3.6" height="1.25" rx="0.62" fill="#050505"/>
<rect x="1101.71" y="168.75" width="1.3" height="65" fill="#06433e"/>
<rect x="1100.56" y="168.75" width="3.6" height="50.75" rx="0.5" fill="#050505"/>
<rect x="1107" y="219.5" width="1.3" height="50.5" fill="#06433e"/>
<rect x="1105.85" y="219.5" width="3.6" height="26" rx="0.5" fill="#050505"/>
<rect x="1112.29" y="210" width="1.3" height="37.5" fill="#06433e"/>
<rect x="1111.59" y="212.45" width="2.7" height="33.35" rx="0.6" fill="#ffffff" stroke="#0a0a0a" stroke-width="0.95"/>
<rect x="1117.59" y="203" width="1.3" height="32" fill="#06433e"/>
<rect x="1116.44" y="212" width="3.6" height="2.5" rx="1.25" fill="#050505"/>
<rect x="1122.88" y="158.75" width="1.3" height="57.5" fill="#06433e"/>
<rect x="1122.18" y="191.7" width="2.7" height="22.85" rx="0.6" fill="#ffffff" stroke="#0a0a0a" stroke-width="0.95"/>
<rect x="1128.17" y="169.5" width="1.3" height="26" fill="#06433e"/>
<rect x="1127.47" y="172.45" width="2.7" height="18.35" rx="0.6" fill="#ffffff" stroke="#0a0a0a" stroke-width="0.95"/>
<rect x="1133.47" y="169.5" width="1.3" height="16.75" fill="#06433e"/>
<rect x="1132.32" y="172" width="3.6" height="13" rx="0.5" fill="#050505"/>
<rect x="1138.76" y="168" width="1.3" height="18.25" fill="#06433e"/>
<rect x="1138.06" y="175.95" width="2.7" height="9.1" rx="0.6" fill="#ffffff" stroke="#0a0a0a" stroke-width="0.95"/>
<rect x="1144.05" y="169.5" width="1.3" height="16.75" fill="#06433e"/>
<rect x="1143.35" y="173" width="2.7" height="3.25" rx="1.2" fill="#ffffff" stroke="#0a0a0a" stroke-width="0.95"/>
<rect x="1149.35" y="160.5" width="1.3" height="16.5" fill="#06433e"/>
<rect x="1148.65" y="168.45" width="2.7" height="4.85" rx="0.6" fill="#ffffff" stroke="#0a0a0a" stroke-width="0.95"/>
<rect x="1154.64" y="152" width="1.3" height="21" fill="#06433e"/>
<rect x="1153.94" y="154.2" width="2.7" height="13.35" rx="0.6" fill="#ffffff" stroke="#0a0a0a" stroke-width="0.95"/>
</g>
<path d="M223.6 399.6 Q237.5 416 255.5 417.3 Q271 417 276.7 400.3" fill="none" stroke="#2d84dc" stroke-width="2.5" stroke-linecap="round"/>
<path d="M350 390.2 Q364 395 378 391 Q387 388.4 392.8 384" fill="none" stroke="#2d84dc" stroke-width="2.5" stroke-linecap="round"/>
<path d="M292.3 479.2 Q318 494 345 480.5" fill="none" stroke="#2d84dc" stroke-width="2.5" stroke-linecap="round"/>
<path d="M325.8 266 H375 L430 228.8 L382.2 272.4 V288.5 Q382.2 294.6 376 294.6 H325.8 Q319.6 294.6 319.6 288.5 V272 Q319.6 266 325.8 266 Z" fill="#679c9c" stroke="#d6faf5" stroke-width="2.3" stroke-linejoin="round"/>
<text x="328.6" y="283.6" font-size="10.5" font-weight="700" textLength="44.4" lengthAdjust="spacingAndGlyphs" fill="#071a1a" stroke="#071a1a" stroke-width="0.35">Breakout</text>
<path d="M872 177 H908.4 Q914.4 177 914.4 183 V199 Q914.4 205.2 908.4 205.2 H896.6 L885 230 L883 205.2 H872 Q865.9 205.2 865.9 199 V183 Q865.9 177 872 177 Z" fill="#679c9c" stroke="#d6faf5" stroke-width="2.3" stroke-linejoin="round"/>
<text x="874.7" y="193.9" font-size="10.5" font-weight="700" textLength="31.4" lengthAdjust="spacingAndGlyphs" fill="#071a1a" stroke="#071a1a" stroke-width="0.35">Retest</text>
<clipPath id="hc"><rect x="9" y="5" width="1204" height="17.6"/></clipPath>
<g clip-path="url(#hc)" font-size="10.5" fill="#04332f" stroke="#04332f" stroke-width="0.25">
<text x="16.4" y="23" textLength="155.4" lengthAdjust="spacingAndGlyphs">Bitcoin / TetherUS · 1h · Binance</text>
<text x="179.4" y="23" textLength="53" lengthAdjust="spacingAndGlyphs">O91,464.54</text>
<text x="240.2" y="23" textLength="52.1" lengthAdjust="spacingAndGlyphs">H91,868.76</text>
<text x="300" y="23" textLength="50.6" lengthAdjust="spacingAndGlyphs">L91,360.00</text>
<text x="357.9" y="23" textLength="51.2" lengthAdjust="spacingAndGlyphs">C91,797.22</text>
<text x="416.3" y="23" textLength="36.1" lengthAdjust="spacingAndGlyphs">+332.68</text>
<text x="458" y="23" textLength="38.5" lengthAdjust="spacingAndGlyphs">(+0.36%)</text>
</g>
<rect x="1216" y="8" width="52" height="23" rx="3.5" fill="#ffffff"/>
<text x="1224.8" y="23.4" font-size="10.5" textLength="23.4" lengthAdjust="spacingAndGlyphs" fill="#33373c" stroke="#33373c" stroke-width="0.2">USDT</text>
<text x="1264.1" y="520.63" font-size="9.8" text-anchor="end" fill="#064640" stroke="#064640" stroke-width="0.3">83,000.00</text>
<text x="1264.1" y="479.3" font-size="9.8" text-anchor="end" fill="#064640" stroke="#064640" stroke-width="0.3">84,000.00</text>
<text x="1264.1" y="437.97" font-size="9.8" text-anchor="end" fill="#064640" stroke="#064640" stroke-width="0.3">85,000.00</text>
<text x="1264.1" y="396.64" font-size="9.8" text-anchor="end" fill="#064640" stroke="#064640" stroke-width="0.3">86,000.00</text>
<text x="1264.1" y="355.31" font-size="9.8" text-anchor="end" fill="#064640" stroke="#064640" stroke-width="0.3">87,000.00</text>
<text x="1264.1" y="313.98" font-size="9.8" text-anchor="end" fill="#064640" stroke="#064640" stroke-width="0.3">88,000.00</text>
<text x="1264.1" y="272.65" font-size="9.8" text-anchor="end" fill="#064640" stroke="#064640" stroke-width="0.3">89,000.00</text>
<text x="1264.1" y="231.32" font-size="9.8" text-anchor="end" fill="#064640" stroke="#064640" stroke-width="0.3">90,000.00</text>
<text x="1264.1" y="189.99" font-size="9.8" text-anchor="end" fill="#064640" stroke="#064640" stroke-width="0.3">91,000.00</text>
<text x="1264.1" y="148.66" font-size="9.8" text-anchor="end" fill="#064640" stroke="#064640" stroke-width="0.3">92,000.00</text>
<text x="1264.1" y="107.33" font-size="9.8" text-anchor="end" fill="#064640" stroke="#064640" stroke-width="0.3">93,000.00</text>
<text x="1264.1" y="66" font-size="9.8" text-anchor="end" fill="#064640" stroke="#064640" stroke-width="0.3">94,000.00</text>
<rect x="1213.5" y="148" width="54" height="24.8" rx="1.5" fill="#050505"/>
<text x="1221.2" y="158.2" font-size="10" font-weight="700" textLength="43.1" lengthAdjust="spacingAndGlyphs" fill="#ffffff">91,797.22</text>
<text x="1221.3" y="169" font-size="10" textLength="23.9" lengthAdjust="spacingAndGlyphs" fill="#e2d4d2">20:50</text>
<clipPath id="cl"><rect x="9" y="527" width="1262" height="24"/></clipPath>
<g clip-path="url(#cl)">
<text transform="translate(12,543) scale(0.93,1)" font-size="10" text-anchor="middle" fill="#063a36" stroke="#063a36" stroke-width="0.4">12:30</text>
<text transform="translate(75.5,543) scale(0.93,1)" font-size="10" text-anchor="middle" fill="#063a36" stroke="#063a36" stroke-width="0.4">30</text>
<text transform="translate(139.5,543) scale(0.93,1)" font-size="10" text-anchor="middle" fill="#063a36" stroke="#063a36" stroke-width="0.4">12:30</text>
<text transform="translate(202.5,543) scale(0.93,1)" font-size="10" text-anchor="middle" fill="#063a36" stroke="#063a36" stroke-width="0.4" font-weight="700">Dec</text>
<text transform="translate(266,543) scale(0.93,1)" font-size="10" text-anchor="middle" fill="#063a36" stroke="#063a36" stroke-width="0.4">12:30</text>
<text transform="translate(329,543) scale(0.93,1)" font-size="10" text-anchor="middle" fill="#063a36" stroke="#063a36" stroke-width="0.4">2</text>
<text transform="translate(393,543) scale(0.93,1)" font-size="10" text-anchor="middle" fill="#063a36" stroke="#063a36" stroke-width="0.4">12:30</text>
<text transform="translate(456,543) scale(0.93,1)" font-size="10" text-anchor="middle" fill="#063a36" stroke="#063a36" stroke-width="0.4">3</text>
<text transform="translate(520,543) scale(0.93,1)" font-size="10" text-anchor="middle" fill="#063a36" stroke="#063a36" stroke-width="0.4">12:30</text>
<text transform="translate(583,543) scale(0.93,1)" font-size="10" text-anchor="middle" fill="#063a36" stroke="#063a36" stroke-width="0.4">4</text>
<text transform="translate(647,543) scale(0.93,1)" font-size="10" text-anchor="middle" fill="#063a36" stroke="#063a36" stroke-width="0.4">12:30</text>
<text transform="translate(710,543) scale(0.93,1)" font-size="10" text-anchor="middle" fill="#063a36" stroke="#063a36" stroke-width="0.4">5</text>
<text transform="translate(774,543) scale(0.93,1)" font-size="10" text-anchor="middle" fill="#063a36" stroke="#063a36" stroke-width="0.4">12:30</text>
<text transform="translate(837,543) scale(0.93,1)" font-size="10" text-anchor="middle" fill="#063a36" stroke="#063a36" stroke-width="0.4">6</text>
<text transform="translate(901,543) scale(0.93,1)" font-size="10" text-anchor="middle" fill="#063a36" stroke="#063a36" stroke-width="0.4">12:30</text>
<text transform="translate(964,543) scale(0.93,1)" font-size="10" text-anchor="middle" fill="#063a36" stroke="#063a36" stroke-width="0.4">7</text>
<text transform="translate(1028,543) scale(0.93,1)" font-size="10" text-anchor="middle" fill="#063a36" stroke="#063a36" stroke-width="0.4">12:30</text>
<text transform="translate(1091,543) scale(0.93,1)" font-size="10" text-anchor="middle" fill="#063a36" stroke="#063a36" stroke-width="0.4">8</text>
<text transform="translate(1155,543) scale(0.93,1)" font-size="10" text-anchor="middle" fill="#063a36" stroke="#063a36" stroke-width="0.4">12:30</text>
</g>
<circle cx="1155.4" cy="515.5" r="10.4" fill="#e9f3fb"/>
<circle cx="1155.4" cy="515.5" r="8.3" fill="#fbe8fb" stroke="#6d4796" stroke-width="1.3"/>
<path d="M1157.8 510.2 L1152 516.3 H1155.1 L1153 521.2 L1159 515 H1155.9 Z" fill="#6a2c96"/>
<circle cx="1161.4" cy="508.9" r="3.4" fill="#fbeef2"/>
<circle cx="1161.4" cy="508.9" r="2.3" fill="#cf3f4c"/>
</svg>
</body></html>
